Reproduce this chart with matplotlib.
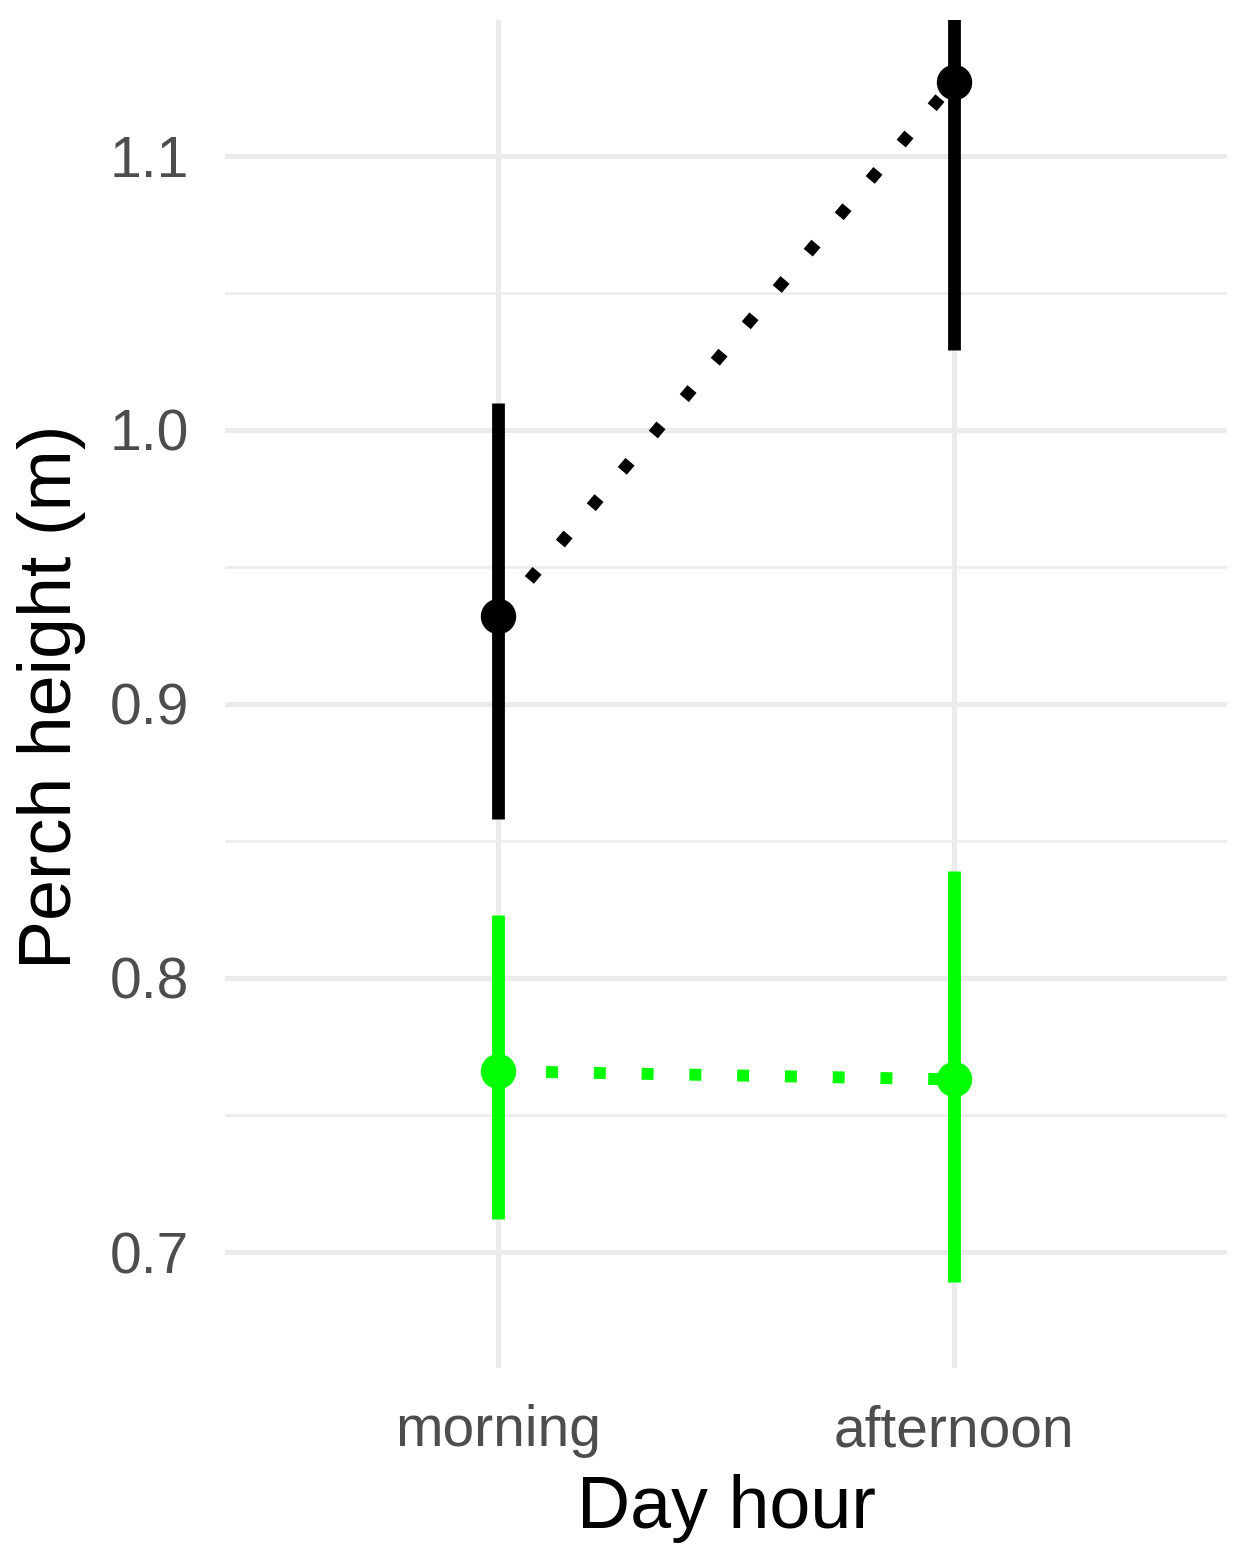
import matplotlib.pyplot as plt

plt.rcParams['font.family'] = ['Liberation Sans', 'DejaVu Sans']

# data
hours = ['morning', 'afternoon']
black_mean = [0.932, 1.127]
black_low = [0.858, 1.029]
black_high = [1.010, 1.150]
green_mean = [0.766, 0.763]
green_low = [0.712, 0.689]
green_high = [0.823, 0.839]
y_ticks = [0.7, 0.8, 0.9, 1.0, 1.1]
y_minor = [0.75, 0.85, 0.95, 1.05]

fig = plt.figure(figsize=(12.51, 15.63), dpi=100)
ax = fig.add_axes([0.1799, 0.1248, 0.8009, 0.8624])

xpos = list(range(1, len(hours) + 1))

# grid like ggplot theme_minimal
for y in y_ticks:
    ax.axhline(y, color='#ebebeb', lw=3.6, zorder=0)
for y in y_minor:
    ax.axhline(y, color='#ebebeb', lw=1.8, zorder=0)
for x in xpos:
    ax.axvline(x, color='#ebebeb', lw=3.6, zorder=0)

for mean, low, high, col in [(black_mean, black_low, black_high, 'black'),
                             (green_mean, green_low, green_high, '#00ff00')]:
    ax.vlines(xpos, low, high, color=col, lw=9.2, zorder=2,
              capstyle='butt')
    ax.plot(xpos, mean, color=col, lw=8.6, linestyle=(0, (1, 3)),
            dash_capstyle='butt', zorder=2)
    ax.plot(xpos, mean, 'o', color=col, ms=24.5, zorder=3)

ax.set_xlim(0.4, 2.6)
ax.set_ylim(0.6577, 1.1496)
ax.set_xticks(xpos)
ax.set_xticklabels(hours)
ax.set_yticks(y_ticks)
ax.set_yticklabels([f'{v:.1f}' for v in y_ticks])
ax.tick_params(axis='both', length=0, labelsize=41, colors='#4d4d4d')
ax.tick_params(axis='y', pad=26)
ax.tick_params(axis='x', pad=26)
for s in ax.spines.values():
    s.set_visible(False)

fig.text(52 / 1251, 0.5545, 'Perch height (m)', rotation=90,
         ha='center', va='center', fontsize=53)
fig.text(0.581, 0.035, 'Day hour', ha='center', va='center', fontsize=53)

fig.savefig('out.png', dpi=100)
